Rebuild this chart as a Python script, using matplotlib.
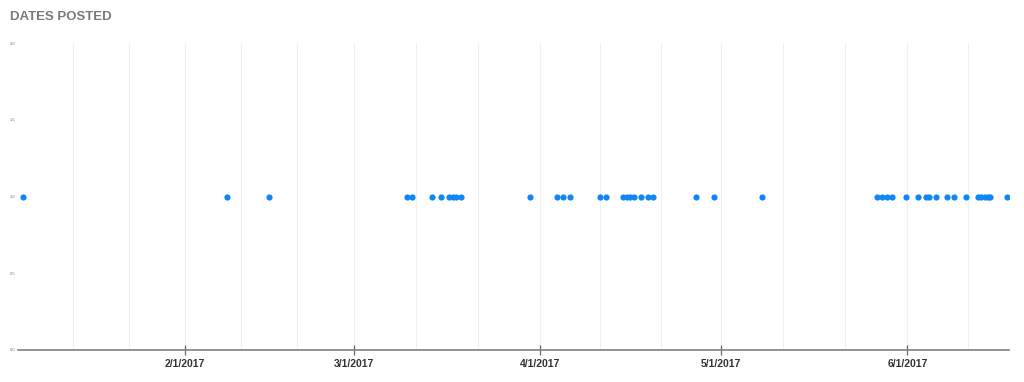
import datetime as dt
import matplotlib
matplotlib.use("Agg")
from matplotlib import pyplot as plt
import matplotlib.dates as mdates
from matplotlib.ticker import FixedLocator, FuncFormatter

# fechas de publicacion (todas en y = 1)
posted = [
    "2017-01-05 00:00", "2017-02-08 00:00", "2017-02-14 22:00",
    "2017-03-09 19:00", "2017-03-10 17:00", "2017-03-14 02:00", "2017-03-15 14:00",
    "2017-03-16 22:00", "2017-03-17 12:00", "2017-03-18 02:00", "2017-03-18 19:00",
    "2017-03-30 07:00", "2017-04-03 17:00", "2017-04-04 17:00", "2017-04-05 22:00",
    "2017-04-10 22:00", "2017-04-11 22:00", "2017-04-14 19:00", "2017-04-15 10:00",
    "2017-04-15 22:00", "2017-04-16 12:00", "2017-04-17 17:00", "2017-04-18 22:00",
    "2017-04-19 17:00", "2017-04-26 22:00", "2017-04-29 22:00", "2017-05-07 19:00",
    "2017-05-26 22:00", "2017-05-27 17:00", "2017-05-28 14:00", "2017-05-29 10:00",
    "2017-05-31 19:00", "2017-06-02 19:00", "2017-06-04 02:00", "2017-06-04 12:00",
    "2017-06-05 17:00", "2017-06-07 14:00", "2017-06-08 17:00", "2017-06-10 17:00",
    "2017-06-12 19:00", "2017-06-13 07:00", "2017-06-13 22:00", "2017-06-14 10:00",
    "2017-06-14 19:00", "2017-06-17 12:00",
]
values = [1] * len(posted)
month_starts = ["2017-02-01", "2017-03-01", "2017-04-01", "2017-05-01", "2017-06-01", "2017-07-01"]
y_ticks = [0, 0.5, 1.0, 1.5, 2.0]
x_start = "2017-01-04 06:00"
x_end = "2017-06-17 21:00"

fmt = "%Y-%m-%d %H:%M"
dates = [dt.datetime.strptime(p, fmt) for p in posted]
months = [dt.datetime.strptime(m, "%Y-%m-%d") for m in month_starts]

# lineas de grilla: cada mes partido en tercios
minor = []
for a, b in zip(months[:-1], months[1:]):
    step = (b - a) / 3
    minor += [a + step, a + 2 * step]
feb_step = (months[1] - months[0]) / 3
minor += [months[0] - feb_step, months[0] - 2 * feb_step]

plt.rcParams['font.family'] = ['Liberation Sans', 'DejaVu Sans']
fig = plt.figure(figsize=(10.24, 3.82), dpi=100)
ax = fig.add_axes([0.0176, 0.0838, 0.9678, 0.8036])

ax.scatter(dates, values, s=20, color="#0f86f5", zorder=3, linewidths=0)

ax.set_xlim(dt.datetime.strptime(x_start, fmt), dt.datetime.strptime(x_end, fmt))
ax.set_ylim(0, 2)

ax.xaxis.set_major_locator(FixedLocator(mdates.date2num(months[:-1])))
ax.xaxis.set_minor_locator(FixedLocator(mdates.date2num(minor)))
ax.xaxis.set_major_formatter(FuncFormatter(
    lambda v, pos: "{d.month}/{d.day}/{d.year}".format(d=mdates.num2date(v))))
ax.tick_params(axis="x", which="major", direction="inout", length=7, width=0.9,
               color="#666666", labelsize=7.5, labelcolor="#333333", pad=3)
ax.tick_params(axis="x", which="minor", length=0)
for lbl in ax.get_xticklabels():
    lbl.set_fontweight("bold")

ax.set_yticks(y_ticks)
ax.set_yticklabels(["%.1f" % v for v in y_ticks])
ax.tick_params(axis="y", length=0, labelsize=3, labelcolor="#777777", pad=2)

ax.grid(True, axis="x", which="both", color="#f0f0f0", linewidth=0.8)
ax.set_axisbelow(True)
for s in ["left", "top", "right"]:
    ax.spines[s].set_visible(False)
ax.spines["bottom"].set_color("#808080")
ax.spines["bottom"].set_linewidth(1.2)

fig.text(0.0098, 0.955, "DATES POSTED", fontsize=9.5, fontweight="bold",
         color="#7a7a7a", va="center", ha="left")

fig.savefig("out.png", dpi=100)
